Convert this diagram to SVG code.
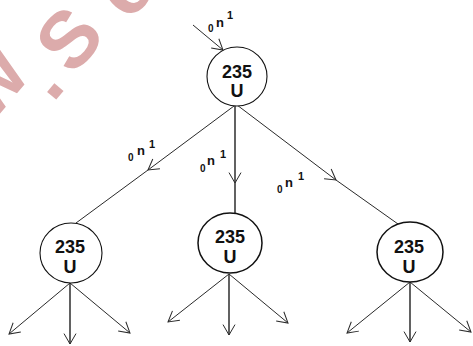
<svg xmlns="http://www.w3.org/2000/svg" width="473" height="346" viewBox="0 0 473 346">
<style>
.wm{font-family:"Liberation Sans",Arial,sans-serif;font-weight:bold;font-size:80px;fill:#dcabab}
.node{fill:#fff;stroke:#111;stroke-width:1.1}
.bold{stroke-width:1.5}
.lbl{font-family:"Liberation Sans",Arial,sans-serif;font-weight:bold;font-size:18px;fill:#111;text-anchor:middle}
.ln{fill:none;stroke:#2a2a2a;stroke-width:1}
.vl{fill:none;stroke:#3a3a3a;stroke-width:1.6}
.n0{font-family:"Liberation Sans",Arial,sans-serif;font-weight:bold;font-size:10px;fill:#111}
.nn{font-family:"Liberation Sans",Arial,sans-serif;font-weight:bold;font-size:13px;fill:#111}
.n1{font-family:"Liberation Sans",Arial,sans-serif;font-weight:bold;font-size:11px;fill:#111}
</style>
<defs>
<marker id="ah" viewBox="-12 -7 13 14" refX="0" refY="0" markerWidth="13" markerHeight="14" markerUnits="userSpaceOnUse" orient="auto">
<path d="M-10.4,-6 L0,0 L-10.4,6" fill="none" stroke="#2a2a2a" stroke-width="1"/>
</marker>
</defs>
<rect width="473" height="346" fill="#fff"/>
<g id="watermark">
<text class="wm" text-anchor="middle" transform="translate(-10,82) rotate(-50)" y="28">w</text>
<text class="wm" text-anchor="middle" transform="translate(56,92) rotate(-50)" y="5">.</text>
<text class="wm" text-anchor="middle" transform="translate(68,38) rotate(-50)" y="29">S</text>
<text class="wm" text-anchor="middle" transform="translate(128,-8) rotate(-50)" y="21">c</text>
</g>
<g id="connectors">
<line class="ln" x1="193" y1="25" x2="223" y2="50" marker-end="url(#ah)"/>
<polyline class="ln" points="234,106 148,170 76,223" marker-mid="url(#ah)"/>
<polyline class="vl" points="235,106 235,183 235,213" marker-mid="url(#ah)"/>
<polyline class="ln" points="237,105 336,180 398,224" marker-mid="url(#ah)"/>
<line class="ln" x1="70" y1="283" x2="9" y2="334" marker-end="url(#ah)"/>
<line class="vl" x1="70" y1="283" x2="70" y2="344" marker-end="url(#ah)"/>
<line class="ln" x1="70" y1="283" x2="130" y2="333" marker-end="url(#ah)"/>
<line class="ln" x1="229" y1="274" x2="168" y2="322" marker-end="url(#ah)"/>
<line class="vl" x1="229" y1="274" x2="229" y2="335" marker-end="url(#ah)"/>
<line class="ln" x1="229" y1="274" x2="288" y2="323" marker-end="url(#ah)"/>
<line class="ln" x1="410" y1="282" x2="347" y2="333" marker-end="url(#ah)"/>
<line class="vl" x1="410" y1="282" x2="410" y2="342" marker-end="url(#ah)"/>
<line class="ln" x1="410" y1="282" x2="471" y2="332" marker-end="url(#ah)"/>
<g id="neutron-labels">
<text><tspan class="n0" x="208" y="32">0</tspan><tspan class="nn" x="216" y="27">n</tspan><tspan class="n1" x="227" y="19">1</tspan></text>
<text><tspan class="n0" x="128" y="161">0</tspan><tspan class="nn" x="137" y="155">n</tspan><tspan class="n1" x="149" y="148">1</tspan></text>
<text><tspan class="n0" x="200" y="172">0</tspan><tspan class="nn" x="207" y="165">n</tspan><tspan class="n1" x="220" y="158">1</tspan></text>
<text><tspan class="n0" x="277" y="193">0</tspan><tspan class="nn" x="285" y="187">n</tspan><tspan class="n1" x="298" y="180">1</tspan></text>
</g>
</g>
<g id="node-top">
<ellipse class="node" cx="237" cy="76.5" rx="30" ry="29.5"/>
<text class="lbl" x="237" y="78">235</text>
<text class="lbl" x="237" y="97">U</text>
</g>
<g id="node-left">
<ellipse class="node" cx="71" cy="253" rx="31" ry="30"/>
<text class="lbl" x="70" y="253">235</text>
<text class="lbl" x="70" y="273">U</text>
</g>
<g id="node-middle">
<ellipse class="node bold" cx="230" cy="243" rx="32" ry="30"/>
<text class="lbl" x="230" y="243">235</text>
<text class="lbl" x="230" y="263">U</text>
</g>
<g id="node-right">
<ellipse class="node bold" cx="410" cy="252" rx="33" ry="30"/>
<text class="lbl" x="409" y="253">235</text>
<text class="lbl" x="409" y="273">U</text>
</g>
</svg>
